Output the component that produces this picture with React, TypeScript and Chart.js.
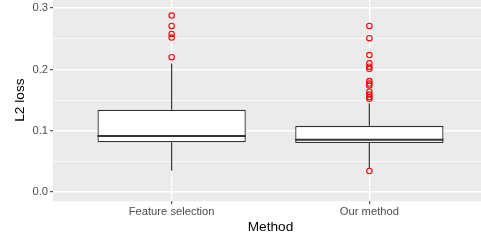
import React, { useEffect, useRef } from 'react';
import { Chart, registerables } from 'chart.js';

Chart.register(...registerables);

const categories = ['Feature selection', 'Our method'];
const categoryPositions = [1, 2];
const lowerWhisker = [0.0347, 0.039];
const q1 = [0.0811, 0.0799];
const median = [0.0914, 0.0853];
const q3 = [0.1343, 0.108];
const upperWhisker = [0.2098, 0.1447];
const outliersFeature = [0.288, 0.271, 0.258, 0.252, 0.22];
const outliersOurs = [0.271, 0.251, 0.2235, 0.21, 0.2045, 0.201, 0.181, 0.177, 0.174, 0.1636, 0.159, 0.155, 0.152, 0.0343];
const yMajorTicks = [0, 0.1, 0.2, 0.3];
const yMinorTicks = [0.05, 0.15, 0.25];

const BOX_WIDTH = 0.75;
const FONT = '"Liberation Sans", Arial, Helvetica, sans-serif';

export default function App() {
  const canvasRef = useRef<HTMLCanvasElement | null>(null);

  useEffect(() => {
    document.body.style.overflow = 'hidden';
    const canvas = canvasRef.current;
    if (!canvas) return;

    const outlierData = [
      ...outliersFeature.map((y) => ({ x: categoryPositions[0], y })),
      ...outliersOurs.map((y) => ({ x: categoryPositions[1], y })),
    ];

    const medianData: any[] = [];
    const whiskerData: any[] = [];
    categoryPositions.forEach((c, i) => {
      medianData.push({ x: c - BOX_WIDTH / 2, y: median[i] });
      medianData.push({ x: c + BOX_WIDTH / 2, y: median[i] });
      medianData.push({ x: c + 0.5, y: null });
      whiskerData.push({ x: c, y: q3[i] });
      whiskerData.push({ x: c, y: upperWhisker[i] });
      whiskerData.push({ x: c, y: null });
      whiskerData.push({ x: c, y: lowerWhisker[i] });
      whiskerData.push({ x: c, y: q1[i] });
      whiskerData.push({ x: c + 0.5, y: null });
    });

    const boxData = categoryPositions.map((c, i) => ({ x: c, y: [q1[i], q3[i]] }));

    const allYTicks = [...yMajorTicks, ...yMinorTicks].sort((a, b) => a - b);
    const isMinor = (v: number) => yMinorTicks.includes(v);

    const bgPlugin = {
      id: 'panelBg',
      beforeDraw(chart: any) {
        const { ctx, chartArea } = chart;
        ctx.save();
        ctx.fillStyle = '#EBEBEB';
        ctx.fillRect(chartArea.left, chartArea.top, chartArea.right - chartArea.left, chartArea.bottom - chartArea.top);
        ctx.restore();
      },
    };

    const chart = new Chart(canvas, {
      type: 'bar',
      data: {
        datasets: [
          {
            type: 'scatter',
            data: outlierData,
            pointStyle: 'circle',
            pointRadius: 2.7,
            pointBorderWidth: 1.1,
            pointBorderColor: '#FF0000',
            pointBackgroundColor: 'rgba(0,0,0,0)',
            order: 0,
          } as any,
          {
            type: 'line',
            data: medianData,
            borderColor: '#333333',
            borderWidth: 2.2,
            pointRadius: 0,
            spanGaps: false,
            fill: false,
            order: 1,
          } as any,
          {
            type: 'bar',
            data: boxData,
            backgroundColor: '#FFFFFF',
            borderColor: '#333333',
            borderWidth: 1.3,
            borderSkipped: false,
            barPercentage: BOX_WIDTH,
            categoryPercentage: 1,
            order: 2,
          } as any,
          {
            type: 'line',
            data: whiskerData,
            borderColor: '#333333',
            borderWidth: 1.2,
            pointRadius: 0,
            spanGaps: false,
            fill: false,
            order: 3,
          } as any,
        ],
      },
      plugins: [bgPlugin],
      options: {
        animation: false,
        responsive: false,
        devicePixelRatio: 1,
        layout: { padding: 0, autoPadding: false },
        plugins: {
          legend: { display: false },
          tooltip: { enabled: false },
        },
        scales: {
          x: {
            type: 'linear',
            min: 0.4,
            max: 2.6,
            offset: false,
            afterBuildTicks: (s: any) => {
              s.ticks = categoryPositions.map((v) => ({ value: v }));
            },
            afterFit: (s: any) => {
              s.height = 41.8;
              s.paddingLeft = 0;
              s.paddingRight = 0;
              s.paddingTop = 0;
              s.paddingBottom = 0;
            },
            ticks: {
              autoSkip: false,
              maxRotation: 0,
              padding: 0.8,
              color: '#4D4D4D',
              font: { family: FONT, size: 11.2 },
              callback: (_v: any, i: number) => categories[i],
            },
            grid: {
              color: '#FFFFFF',
              lineWidth: 1.4,
              tickColor: '#333333',
              tickLength: 3,
              tickWidth: 1,
              offset: false,
            },
            border: { display: false },
            title: {
              display: true,
              text: 'Method',
              color: '#000000',
              font: { family: FONT, size: 13.7 },
              padding: { top: 0, bottom: 7.5 },
            },
          },
          y: {
            type: 'linear',
            min: -0.015,
            max: 0.315,
            afterBuildTicks: (s: any) => {
              s.ticks = allYTicks.map((v) => ({ value: v }));
            },
            afterFit: (s: any) => {
              s.width = 53;
              s.paddingLeft = 0;
              s.paddingRight = 0;
              s.paddingTop = 0;
              s.paddingBottom = 0;
            },
            ticks: {
              autoSkip: false,
              padding: 2,
              color: '#4D4D4D',
              font: { family: FONT, size: 11.2 },
              callback: (v: any) => (isMinor(v) ? '' : Number(v).toFixed(1)),
            },
            grid: {
              color: '#FFFFFF',
              lineWidth: (ctx: any) => (ctx.tick && isMinor(ctx.tick.value) ? 0.7 : 1.4),
              tickColor: (ctx: any) => (ctx.tick && isMinor(ctx.tick.value) ? 'rgba(0,0,0,0)' : '#333333'),
              tickLength: 3,
              tickWidth: 1,
            },
            border: { display: false },
            title: {
              display: true,
              text: 'L2 loss',
              color: '#000000',
              font: { family: FONT, size: 13.7 },
              padding: { top: 11.8, bottom: 0 },
            },
          },
        },
      } as any,
    });

    return () => {
      chart.destroy();
    };
  }, []);

  return (
    <div style={{ position: 'absolute', left: 0, top: -1, width: 488, height: 244 }}>
      <canvas ref={canvasRef} width={488} height={244} style={{ display: 'block', width: 488, height: 244 }} />
    </div>
  );
}
